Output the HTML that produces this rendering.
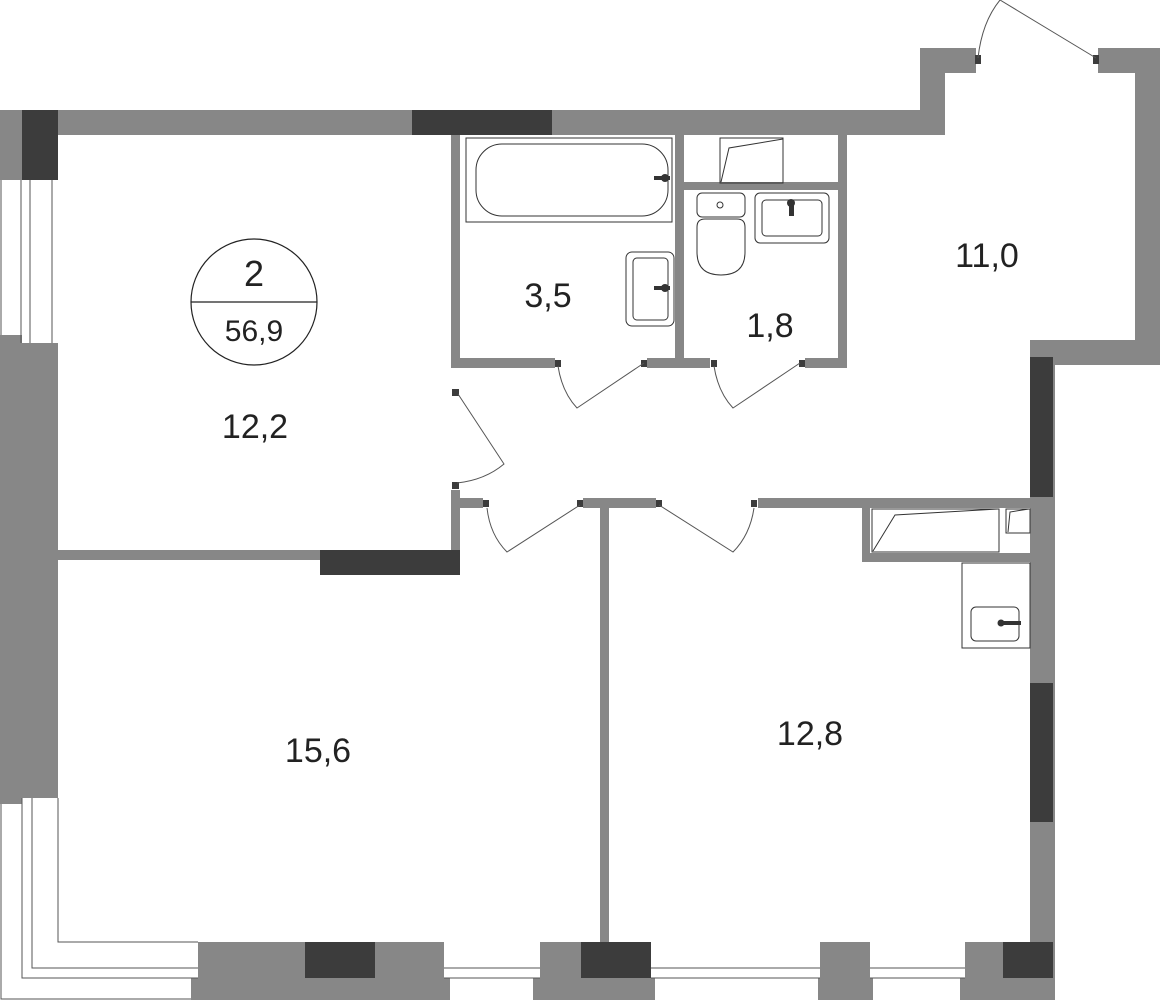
<!DOCTYPE html>
<html><head><meta charset="utf-8"><style>html,body{margin:0;padding:0;background:#fff}svg{display:block}text{font-family:"Liberation Sans",sans-serif;fill:#222}</style></head><body>
<svg width="1160" height="1000" viewBox="0 0 1160 1000" xmlns="http://www.w3.org/2000/svg">
<g fill="#878787">
<rect x="0" y="110" width="945" height="25"/>
<rect x="920" y="48" width="25" height="87"/>
<rect x="920" y="48" width="56" height="25"/>
<rect x="1098" y="48" width="62" height="25"/>
<rect x="1135" y="48" width="25" height="317"/>
<rect x="1030" y="340" width="130" height="25"/>
<rect x="1030" y="340" width="25" height="605"/>
<rect x="0" y="110" width="22" height="70"/>
<rect x="0" y="335" width="22" height="469"/>
<rect x="22" y="343" width="36" height="455"/>
<rect x="198" y="942" width="857" height="36"/>
<rect x="191" y="978" width="864" height="22"/>
<rect x="451" y="135" width="9" height="232"/>
<rect x="451" y="358" width="104" height="10"/>
<rect x="647" y="358" width="63" height="10"/>
<rect x="675" y="135" width="9" height="233"/>
<rect x="684" y="182" width="154" height="8"/>
<rect x="838" y="135" width="9" height="233"/>
<rect x="805" y="358" width="42" height="10"/>
<rect x="58" y="550" width="262" height="10"/>
<rect x="451" y="490" width="9" height="85"/>
<rect x="460" y="498" width="23" height="10"/>
<rect x="583" y="498" width="73" height="10"/>
<rect x="758" y="498" width="272" height="10"/>
<rect x="600" y="508" width="9" height="434"/>
<rect x="862" y="508" width="8" height="54"/>
<rect x="862" y="553" width="168" height="9"/>
</g>
<!-- windows -->
<g fill="#fff">
<rect x="444" y="942" width="96" height="36"/>
<rect x="651" y="942" width="169" height="36"/>
<rect x="870" y="942" width="95" height="36"/>
<rect x="450" y="978" width="83" height="22"/>
<rect x="655" y="978" width="163" height="22"/>
<rect x="873" y="978" width="87" height="22"/>
</g>
<g fill="#3c3c3c">
<rect x="22" y="110" width="36" height="70"/>
<rect x="412" y="110" width="140" height="25"/>
<rect x="320" y="550" width="140" height="25"/>
<rect x="1030" y="357" width="23" height="140"/>
<rect x="1030" y="683" width="23" height="139"/>
<rect x="305" y="942" width="70" height="36"/>
<rect x="581" y="942" width="70" height="36"/>
<rect x="1003" y="942" width="50" height="36"/>
<rect x="975" y="55" width="6" height="9"/>
<rect x="1093" y="55" width="6" height="9"/>
<rect x="452" y="389" width="7" height="7"/>
<rect x="452" y="482" width="7" height="7"/>
<rect x="555" y="360" width="6" height="7"/>
<rect x="641" y="360" width="6" height="7"/>
<rect x="711" y="360" width="6" height="7"/>
<rect x="799" y="360" width="6" height="7"/>
<rect x="483" y="500" width="6" height="7"/>
<rect x="577" y="500" width="6" height="7"/>
<rect x="656" y="500" width="6" height="7"/>
<rect x="751" y="500" width="6" height="7"/>
</g>
<g stroke="#555" stroke-width="1" fill="none">
<line x1="444" y1="968" x2="540" y2="968"/><line x1="651" y1="968" x2="820" y2="968"/><line x1="870" y1="968" x2="965" y2="968"/>
<line x1="444" y1="978" x2="540" y2="978"/><line x1="651" y1="978" x2="820" y2="978"/><line x1="870" y1="978" x2="965" y2="978"/>
<line x1="1" y1="180" x2="1" y2="335"/><line x1="21" y1="180" x2="21" y2="343"/><line x1="30" y1="180" x2="30" y2="343"/><line x1="52" y1="180" x2="52" y2="343"/>
<polyline points="1,804 1,999 191,999"/>
<polyline points="22,798 22,978 198,978"/>
<polyline points="32,798 32,968 198,968"/>
<polyline points="58,798 58,942 198,942"/>
<path d="M978,58 Q982,22 1000,0"/>
<line x1="1000" y1="0" x2="1096" y2="58"/>
<path d="M458,394 L504,464 Q485,480 457,483"/>
<path d="M558,366 Q562,392 577,408 L644,363"/>
<path d="M714,366 Q718,392 733,408 L800,363"/>
<path d="M487,508 Q490,535 507,552 L580,505"/>
<path d="M659,505 L733,552 Q750,535 754,508"/>
<rect x="466" y="138" width="206" height="84" stroke="#333"/>
<rect x="476" y="144" width="192" height="72" rx="26" stroke="#333"/>
<rect x="626" y="252" width="48" height="74" rx="6" stroke="#333"/>
<rect x="633" y="258" width="35" height="62" rx="4" stroke="#333"/>
<rect x="720" y="138" width="63" height="45" stroke="#333"/>
<polyline points="721,182 729,148 783,139" stroke="#333"/>
<rect x="697" y="193" width="48" height="24" rx="5" stroke="#333"/>
<circle cx="720" cy="205" r="3" stroke="#333"/>
<path d="M697,227 Q697,219 705,219 L737,219 Q745,219 745,227 L745,252 Q745,275 721,275 Q697,275 697,252 Z" stroke="#333"/>
<rect x="755" y="193" width="74" height="50" rx="5" stroke="#333"/>
<rect x="762" y="200" width="60" height="36" rx="4" stroke="#333"/>
<rect x="872" y="509" width="127" height="43" stroke="#333"/>
<polyline points="873,551 895,515 998,509" stroke="#333"/>
<rect x="1006" y="509" width="24" height="24" stroke="#333"/>
<polyline points="1008,532 1010,512 1029,509" stroke="#333"/>
<rect x="962" y="563" width="68" height="85" stroke="#333"/>
<rect x="971" y="607" width="48" height="34" rx="5" stroke="#333"/>
<circle cx="254" cy="302" r="63" stroke="#222" stroke-width="1.2"/>
<line x1="191" y1="302" x2="317" y2="302" stroke="#222" stroke-width="1.2"/>
</g>
<g fill="#333">
<rect x="654" y="176" width="16" height="4"/><circle cx="665" cy="178" r="4"/>
<rect x="654" y="286" width="16" height="4"/><circle cx="665" cy="288" r="4"/>
<rect x="789" y="200" width="5" height="16"/><circle cx="791" cy="203" r="4"/>
<rect x="999" y="621" width="22" height="4"/><circle cx="1001" cy="623" r="3.5"/>
</g>
<text x="254" y="286" font-size="36" text-anchor="middle">2</text>
<text x="254" y="341" font-size="30" text-anchor="middle">56,9</text>
<text x="255" y="438" font-size="34" text-anchor="middle">12,2</text>
<text x="548" y="307" font-size="34" text-anchor="middle">3,5</text>
<text x="770" y="337" font-size="34" text-anchor="middle">1,8</text>
<text x="987" y="267" font-size="34" text-anchor="middle">11,0</text>
<text x="318" y="762" font-size="34" text-anchor="middle">15,6</text>
<text x="810" y="745" font-size="34" text-anchor="middle">12,8</text>
</svg>
</body></html>
